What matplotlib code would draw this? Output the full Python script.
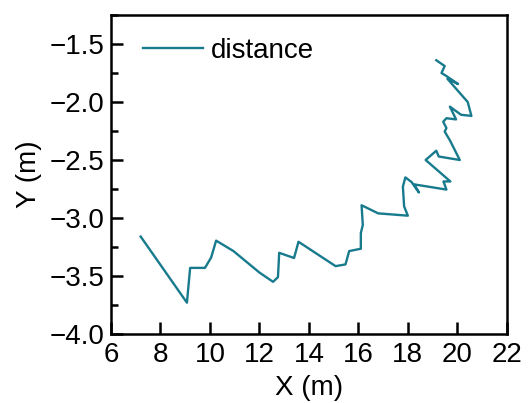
import numpy as np
import matplotlib.pyplot as plt
from matplotlib.ticker import MultipleLocator

# trajectory
x = [7.20, 9.07, 9.20, 9.80, 10.05, 10.25, 10.95, 12.00, 12.55, 12.75,
     12.80, 13.40, 13.58, 15.08, 15.48, 15.63, 16.10, 16.10, 16.18, 16.13,
     16.80, 18.00, 17.85, 17.80, 17.90, 18.15, 18.45, 18.25, 19.56, 19.44,
     19.72, 18.72, 19.15, 19.25, 20.10, 19.70, 19.49, 19.56, 19.43, 19.56,
     19.95, 19.70, 20.15, 20.57, 20.42, 19.60, 20.03, 19.55, 19.36, 19.49,
     19.15]
y = [-3.16, -3.73, -3.43, -3.43, -3.34, -3.195, -3.285, -3.47, -3.55, -3.51,
     -3.30, -3.345, -3.205, -3.415, -3.40, -3.285, -3.265, -3.13, -3.06, -2.89,
     -2.96, -2.98, -2.90, -2.73, -2.65, -2.69, -2.78, -2.71, -2.755, -2.685,
     -2.685, -2.50, -2.42, -2.47, -2.50, -2.33, -2.255, -2.225, -2.17, -2.14,
     -2.15, -2.04, -2.11, -2.12, -2.00, -1.80, -1.845, -1.775, -1.75, -1.69,
     -1.64]

plt.rcParams['font.family'] = ['Liberation Sans', 'DejaVu Sans']
plt.rcParams['font.size'] = 20

fig = plt.figure(figsize=(5.29, 4.03), dpi=100)
ax = fig.add_axes([0.2098, 0.1712, 0.7482, 0.7916])
ax.plot(x, y, color='#187b8d', lw=1.7, label='distance')

ax.set_xlim(6, 22)
ax.set_ylim(-4, -1.25)
ax.xaxis.set_major_locator(MultipleLocator(2))
ax.yaxis.set_major_locator(MultipleLocator(0.5))
ax.yaxis.set_minor_locator(MultipleLocator(0.25))
ax.tick_params(which='both', direction='in', top=False, right=False, width=1.8)
ax.tick_params(which='major', length=8.5)
ax.tick_params(which='minor', length=5)
ax.tick_params(axis='x', pad=6)
ax.tick_params(axis='y', pad=4.5)
for s in ax.spines.values():
    s.set_linewidth(1.8)

ax.set_xlabel('X (m)', labelpad=5)
ax.set_ylabel('Y (m)', labelpad=6)
ax.legend(loc='center left', bbox_to_anchor=(0.053, 0.888), borderaxespad=0,
          frameon=False, handlelength=2.16, handletextpad=0.29)

fig.savefig('out.png')
